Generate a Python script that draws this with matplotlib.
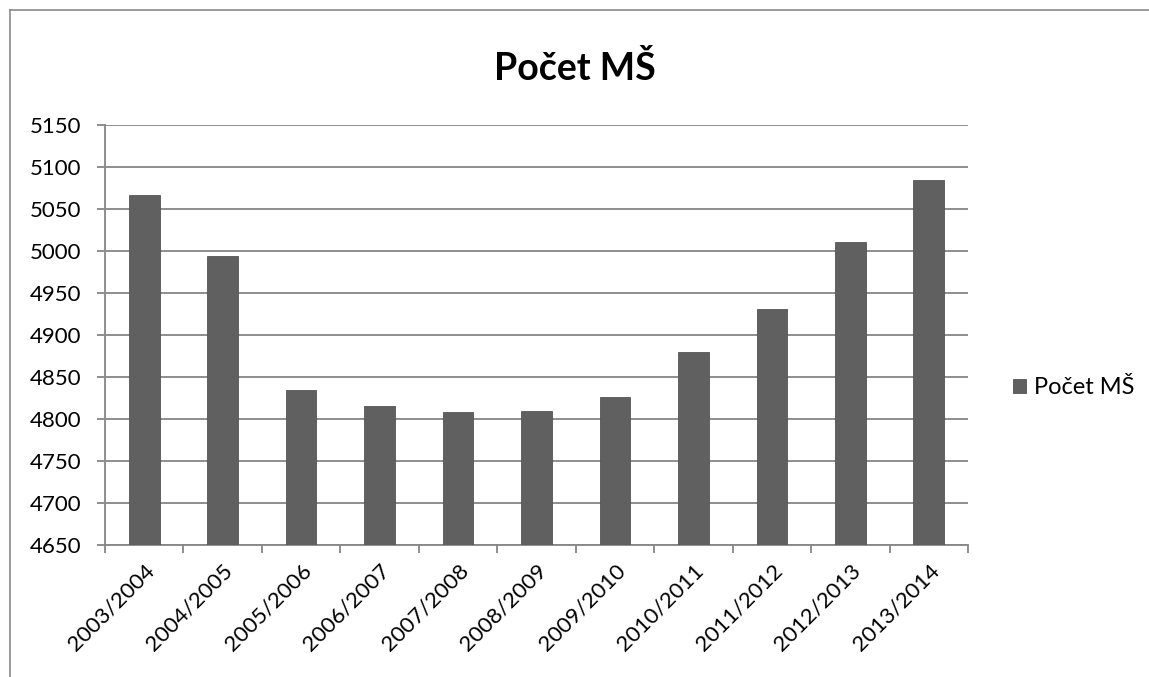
import matplotlib.pyplot as plt
from matplotlib.lines import Line2D
import numpy as np

# Data
roky = ['2003/2004', '2004/2005', '2005/2006', '2006/2007', '2007/2008', '2008/2009',
        '2009/2010', '2010/2011', '2011/2012', '2012/2013', '2013/2014']
pocet_ms = [5067, 4994, 4834, 4815, 4808, 4809, 4826, 4880, 4931, 5011, 5085]
y_ticks = np.arange(4650, 5151, 50)

plt.rcParams['font.family'] = ['Lato', 'DejaVu Sans']

fig = plt.figure(figsize=(11.49, 6.77), dpi=100)
ax = fig.add_axes([105 / 1149, 1 - 545 / 677, (968 - 105) / 1149, (545 - 125) / 677])

grid_col = '#868686'
x = np.arange(len(roky))
ax.bar(x, pocet_ms, width=0.39, color='#606060', edgecolor='#555555', linewidth=0.6,
       zorder=3, label='Počet MŠ')

ax.set_ylim(4650, 5150)
ax.set_xlim(-0.5, len(roky) - 0.5)
ax.set_yticks(y_ticks)
ax.set_yticklabels([str(v) for v in y_ticks], fontsize=16)
ax.yaxis.grid(True, color=grid_col, linewidth=1.3, zorder=0)

ax.set_xticks(x)
ax.set_xticklabels(roky, rotation=45, ha='right', rotation_mode='anchor', fontsize=16)
ax.set_xticks(np.arange(-0.5, len(roky)), minor=True)
ax.tick_params(axis='x', which='major', length=0, pad=11)
ax.tick_params(axis='x', which='minor', length=6, color=grid_col, width=1.3)
ax.tick_params(axis='y', length=6, color=grid_col, width=1.3, pad=11)

for s in ['top', 'right']:
    ax.spines[s].set_visible(False)
for s in ['left', 'bottom']:
    ax.spines[s].set_color(grid_col)
    ax.spines[s].set_linewidth(1.3)

fig.text(575 / 1149, 1 - 68 / 677, 'Počet MŠ', ha='center', va='center',
         fontsize=27, fontweight='bold')

ax.legend(loc='center left', bbox_to_anchor=(1.052, 0.374), frameon=False,
          fontsize=17, handlelength=0.55, handleheight=0.55, handletextpad=0.35,
          borderaxespad=0, borderpad=0)

# outer chart border
fig.add_artist(Line2D([10 / 1149, 1], [1 - 10 / 677, 1 - 10 / 677], color='#8a8a8a', linewidth=1.2))
fig.add_artist(Line2D([10 / 1149, 10 / 1149], [0, 1 - 10 / 677], color='#8a8a8a', linewidth=1.2))

fig.savefig('out.png', dpi=100)
